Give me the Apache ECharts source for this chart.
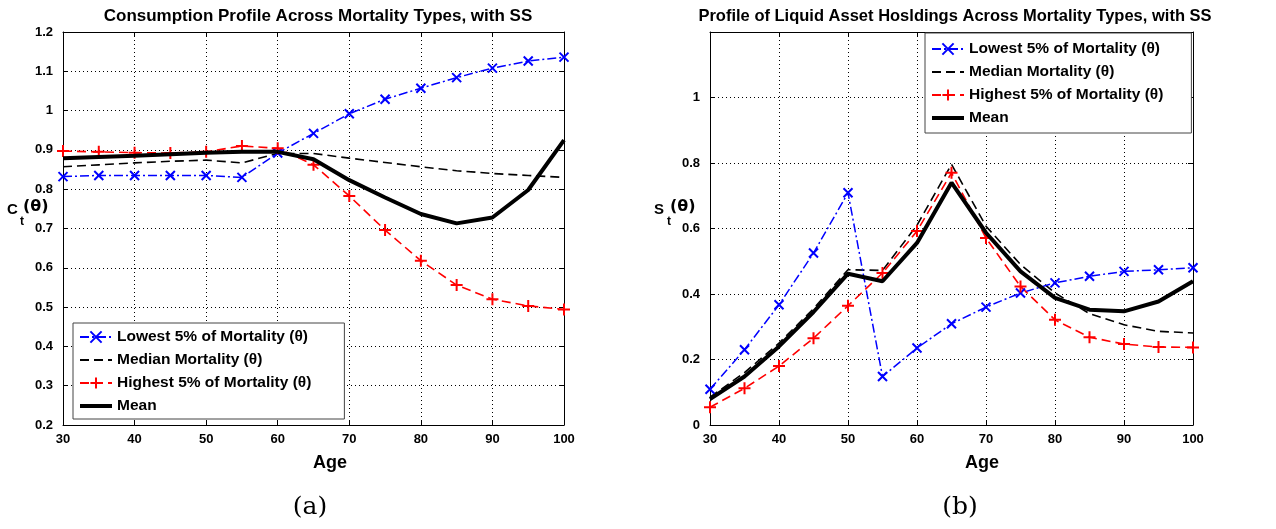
<!DOCTYPE html>
<html>
<head>
<meta charset="utf-8">
<script src="https://cdn.jsdelivr.net/npm/echarts@6/dist/echarts.min.js"></script>
<style>
html,body{margin:0;padding:0;background:#fff;}
#c{width:1276px;height:529px;}
</style>
</head>
<body>
<div id="c"></div>
<script>
// ---------- data ----------
const ages = [30,35,40,45,50,55,60,65,70,75,80,85,90,95,100];
const seriesNames = ['Lowest 5% of Mortality (θ)','Median Mortality (θ)','Highest 5% of Mortality (θ)','Mean'];

// (a) Consumption
const consLowest  = [0.832,0.835,0.835,0.835,0.835,0.830,0.892,0.942,0.992,1.029,1.057,1.084,1.108,1.126,1.136];
const consMedian  = [0.857,0.862,0.867,0.871,0.874,0.867,0.891,0.891,0.879,0.868,0.857,0.847,0.840,0.835,0.830];
const consHighest = [0.897,0.895,0.893,0.892,0.895,0.910,0.904,0.862,0.783,0.696,0.618,0.556,0.520,0.503,0.494];
const consMean    = [0.879,0.882,0.885,0.889,0.893,0.895,0.895,0.876,0.823,0.779,0.737,0.713,0.728,0.798,0.925];

// (b) Liquid asset holdings
const assetLowest  = [0.109,0.230,0.367,0.525,0.709,0.148,0.235,0.309,0.360,0.403,0.434,0.454,0.469,0.474,0.480];
const assetMedian  = [0.085,0.160,0.250,0.355,0.474,0.472,0.610,0.796,0.607,0.490,0.403,0.340,0.306,0.286,0.281];
const assetHighest = [0.054,0.112,0.180,0.265,0.364,0.464,0.592,0.770,0.571,0.423,0.321,0.268,0.247,0.238,0.237];
const assetMean    = [0.079,0.148,0.240,0.345,0.462,0.439,0.556,0.740,0.587,0.469,0.388,0.352,0.347,0.377,0.439];

const xTicks = {min:30, max:100, interval:10};
const yTicksA = {min:0.2, max:1.2, interval:0.1};
const yTicksB = {min:0, max:1.2, interval:0.2};

// ---------- helpers ----------
const pair = arr => ages.map((a,i)=>[a,arr[i]]);
const FONT = 'Liberation Sans';
const X_SYM = 'path://M0,0L10,10M10,0L0,10';
const P_SYM = 'path://M5,0L5,10M0,5L10,5';

function mkSeries(idx, vals){
  return [
    {name:seriesNames[0], type:'line', xAxisIndex:idx*2, yAxisIndex:idx*2, data:pair(vals[0]),
     symbol:X_SYM, symbolSize:9, showAllSymbol:true,
     lineStyle:{color:'#0000ff', width:1.5, type:[9,3,2,3]},
     itemStyle:{color:'#0000ff', borderColor:'#0000ff', borderWidth:2}, z:3},
    {name:seriesNames[1], type:'line', xAxisIndex:idx*2, yAxisIndex:idx*2, data:pair(vals[1]),
     symbol:'none',
     lineStyle:{color:'#000000', width:1.6, type:[9,5]},
     itemStyle:{color:'#000000'}, z:2},
    {name:seriesNames[2], type:'line', xAxisIndex:idx*2, yAxisIndex:idx*2, data:pair(vals[2]),
     symbol:P_SYM, symbolSize:12, showAllSymbol:true,
     lineStyle:{color:'#ff0000', width:1.6, type:[9,5]},
     itemStyle:{color:'#ff0000', borderColor:'#ff0000', borderWidth:2}, z:3},
    {name:seriesNames[3], type:'line', xAxisIndex:idx*2, yAxisIndex:idx*2, data:pair(vals[3]),
     symbol:'none',
     lineStyle:{color:'#000000', width:4},
     itemStyle:{color:'#000000'}, z:4}
  ];
}

const labelStyle = {color:'#000', fontFamily:FONT, fontWeight:'bold', fontSize:13};

function xAxes(g){
  return [
    {type:'value', gridIndex:g, position:'bottom', ...xTicks,
     axisLine:{show:true, lineStyle:{color:'#000', width:1}},
     axisTick:{show:true, inside:true, length:5, lineStyle:{color:'#000'}},
     axisLabel:{...labelStyle, margin:8},
     splitLine:{show:true, lineStyle:{color:'#000', type:[1,3], width:1}}},
    {type:'value', gridIndex:g, position:'top', ...xTicks,
     axisLine:{show:true, onZero:false, lineStyle:{color:'#000', width:1}},
     axisTick:{show:true, inside:true, length:5, lineStyle:{color:'#000'}},
     axisLabel:{show:false}, splitLine:{show:false}}
  ];
}
function yAxes(g, t, hideMax){
  return [
    {type:'value', gridIndex:g, position:'left', ...t,
     axisLine:{show:true, onZero:false, lineStyle:{color:'#000', width:1}},
     axisTick:{show:true, inside:true, length:5, lineStyle:{color:'#000'}},
     axisLabel:{...labelStyle, margin:10, showMaxLabel: !hideMax},
     splitLine:{show:true, lineStyle:{color:'#000', type:[1,3], width:1}}},
    {type:'value', gridIndex:g, position:'right', ...t,
     axisLine:{show:true, onZero:false, lineStyle:{color:'#000', width:1}},
     axisTick:{show:true, inside:true, length:5, lineStyle:{color:'#000'}},
     axisLabel:{show:false}, splitLine:{show:false}}
  ];
}

const legendData = [
  {name:seriesNames[0]},
  {name:seriesNames[1], itemStyle:{opacity:0}, lineStyle:{width:2, type:[9,5]}},
  {name:seriesNames[2]},
  {name:seriesNames[3], itemStyle:{opacity:0}, lineStyle:{width:4, type:'solid'}}
];
const legendBase = {
  orient:'vertical', data:legendData, itemWidth:32, itemHeight:14, itemGap:7,
  backgroundColor:'#fff', borderColor:'#444', borderWidth:1, borderRadius:0,
  textStyle:{color:'#000', fontFamily:FONT, fontWeight:'bold', fontSize:15.5},
  selectedMode:false
};

const titleStyle = {color:'#000', fontFamily:FONT, fontWeight:'bold', fontSize:17};

const chart = echarts.init(document.getElementById('c'), null, {renderer:'canvas'});
chart.setOption({
  animation:false,
  backgroundColor:'#fff',
  title:[
    {text:'Consumption Profile Across Mortality Types, with SS', left:313, top:3, textAlign:'center', textStyle:titleStyle},
    {text:'Profile of Liquid Asset Hosldings Across Mortality Types, with SS', left:950, top:3, textAlign:'center', textStyle:{...titleStyle, fontSize:16.5}}
  ],
  grid:[
    {left:63, right:712, top:32, bottom:104},
    {left:710, right:83, top:32, bottom:104}
  ],
  xAxis:[...xAxes(0), ...xAxes(1)],
  yAxis:[...yAxes(0, yTicksA, false), ...yAxes(1, yTicksB, true)],
  legend:[
    {...legendBase, left:73, top:323, padding:[6,33,5,5]},
    {...legendBase, left:925, top:33, padding:[8,28,7,5]}
  ],
  series:[
    ...mkSeries(0,[consLowest,consMedian,consHighest,consMean]),
    ...mkSeries(1,[assetLowest,assetMedian,assetHighest,assetMean])
  ],
  graphic:[
    {type:'text', left:7, top:202, style:{text:'C', font:'bold 15px "Liberation Sans"', fill:'#000'}},
    {type:'text', left:20, top:216, style:{text:'t', font:'bold 12px "Liberation Sans"', fill:'#000'}},
    {type:'text', left:23, top:199, style:{text:'(θ)', font:'bold 16px "DejaVu Sans"', fill:'#000'}},
    {type:'text', left:654, top:202, style:{text:'S', font:'bold 15px "Liberation Sans"', fill:'#000'}},
    {type:'text', left:667, top:216, style:{text:'t', font:'bold 12px "Liberation Sans"', fill:'#000'}},
    {type:'text', left:670, top:199, style:{text:'(θ)', font:'bold 16px "DejaVu Sans"', fill:'#000'}},
    {type:'text', x:330, y:463, style:{text:'Age', font:'bold 18px "Liberation Sans"', fill:'#000', align:'center', verticalAlign:'middle'}},
    {type:'text', x:982, y:463, style:{text:'Age', font:'bold 18px "Liberation Sans"', fill:'#000', align:'center', verticalAlign:'middle'}},
    {type:'text', x:310, y:507, style:{text:'(a)', font:'25px "DejaVu Serif"', fill:'#000', align:'center', verticalAlign:'middle'}},
    {type:'text', x:960, y:507, style:{text:'(b)', font:'25px "DejaVu Serif"', fill:'#000', align:'center', verticalAlign:'middle'}}
  ]
});
</script>
</body>
</html>
